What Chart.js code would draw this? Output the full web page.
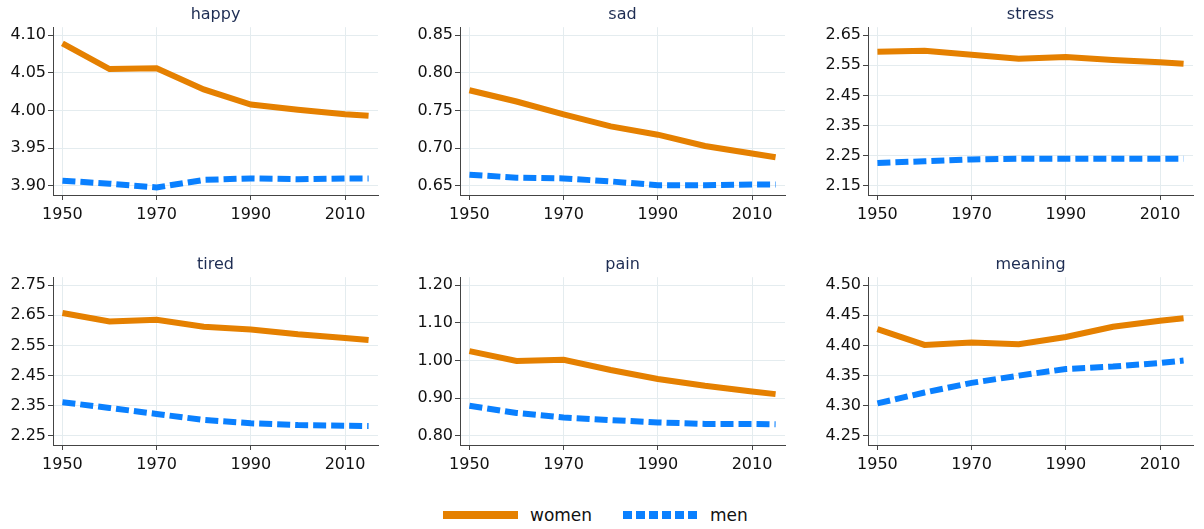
<!DOCTYPE html>
<html>
<head>
<meta charset="utf-8">
<script src="https://cdn.jsdelivr.net/npm/chart.js@4"></script>
<style>
  body { margin: 0; background: #fff; width: 1204px; height: 529px; position: relative; overflow: hidden; }
  .panel { position: absolute; width: 380px; height: 230px; }
  #legend { position: absolute; left: 0; top: 500px; width: 1204px; height: 30px;
    font: 17px "DejaVu Sans", sans-serif; color: #111; }
  #legend span { position: absolute; top: 5px; }
</style>
</head>
<body>
<div class="panel" style="left:0;top:0"><canvas id="c0"></canvas></div>
<div class="panel" style="left:407px;top:0"><canvas id="c1"></canvas></div>
<div class="panel" style="left:815px;top:0"><canvas id="c2"></canvas></div>
<div class="panel" style="left:0;top:250px"><canvas id="c3"></canvas></div>
<div class="panel" style="left:407px;top:250px"><canvas id="c4"></canvas></div>
<div class="panel" style="left:815px;top:250px"><canvas id="c5"></canvas></div>

<div id="legend">
  <svg width="1204" height="30" style="position:absolute;left:0;top:0">
    <line x1="443" y1="15" x2="518" y2="15" stroke="#E58000" stroke-width="8"/>
    <line x1="623" y1="15" x2="698" y2="15" stroke="#0A80FF" stroke-width="8" stroke-dasharray="9,4"/>
  </svg>
  <span style="left:530px">women</span>
  <span style="left:710px">men</span>
</div>

<script>
const years = [1950, 1960, 1970, 1980, 1990, 2000, 2010, 2015];
const xTicks = [1950, 1970, 1990, 2010];

const titles = ["happy", "sad", "stress", "tired", "pain", "meaning"];

const happyWomen = [4.089, 4.055, 4.056, 4.028, 4.008, 4.001, 3.995, 3.993];
const happyMen = [3.907, 3.903, 3.898, 3.908, 3.910, 3.909, 3.910, 3.910];
const sadWomen = [0.777, 0.762, 0.745, 0.729, 0.718, 0.703, 0.693, 0.688];
const sadMen = [0.665, 0.661, 0.660, 0.656, 0.651, 0.651, 0.652, 0.652];
const stressWomen = [2.595, 2.598, 2.585, 2.572, 2.578, 2.568, 2.560, 2.555];
const stressMen = [2.226, 2.232, 2.238, 2.240, 2.240, 2.240, 2.240, 2.240];
const tiredWomen = [2.658, 2.630, 2.635, 2.612, 2.603, 2.587, 2.575, 2.568];
const tiredMen = [2.362, 2.343, 2.323, 2.303, 2.292, 2.286, 2.284, 2.283];
const painWomen = [1.025, 0.999, 1.002, 0.975, 0.951, 0.933, 0.918, 0.911];
const painMen = [0.880, 0.861, 0.849, 0.842, 0.836, 0.832, 0.832, 0.831];
const meaningWomen = [4.427, 4.401, 4.405, 4.402, 4.414, 4.431, 4.441, 4.445];
const meaningMen = [4.304, 4.322, 4.338, 4.350, 4.361, 4.365, 4.371, 4.375];

const happyTicks = [3.90, 3.95, 4.00, 4.05, 4.10];
const sadTicks = [0.65, 0.70, 0.75, 0.80, 0.85];
const stressTicks = [2.15, 2.25, 2.35, 2.45, 2.55, 2.65];
const tiredTicks = [2.25, 2.35, 2.45, 2.55, 2.65, 2.75];
const painTicks = [0.80, 0.90, 1.00, 1.10, 1.20];
const meaningTicks = [4.25, 4.30, 4.35, 4.40, 4.45, 4.50];

const women = [happyWomen, sadWomen, stressWomen, tiredWomen, painWomen, meaningWomen];
const men = [happyMen, sadMen, stressMen, tiredMen, painMen, meaningMen];
const yTicks = [happyTicks, sadTicks, stressTicks, tiredTicks, painTicks, meaningTicks];

const FONT = "'DejaVu Sans', sans-serif";
const ORANGE = "#E58000";
const BLUE = "#0A80FF";
const GRID = "#e4ecef";
const AXIS = "#444";

function pts(vals) {
  return years.map((y, i) => ({ x: y, y: vals[i] }));
}

function makePanel(i) {
  let ticks = yTicks[i];
  let lo = ticks[0], hi = ticks[ticks.length - 1];
  let span = hi - lo;

  new Chart(document.getElementById("c" + i), {
    type: "line",
    data: {
      datasets: [
        {
          label: "women",
          data: pts(women[i]),
          borderColor: ORANGE,
          borderWidth: 6,
          pointRadius: 0,
          tension: 0,
        },
        {
          label: "men",
          data: pts(men[i]),
          borderColor: BLUE,
          borderWidth: 6,
          borderDash: [13, 5],
          pointRadius: 0,
          tension: 0,
        },
      ],
    },
    options: {
      responsive: false,
      animation: false,
      layout: { padding: { left: 0, right: 2, top: 0, bottom: 0 } },
      plugins: {
        legend: { display: false },
        tooltip: { enabled: false },
        title: {
          display: true,
          text: titles[i],
          fullSize: false,
          color: "#1e2d53",
          font: { family: FONT, size: 16, weight: "normal" },
          padding: { top: 5, bottom: 3 },
        },
      },
      scales: {
        x: {
          type: "linear",
          min: 1948,
          max: 2017,
          afterBuildTicks: (s) => { s.ticks = xTicks.map((v) => ({ value: v })); },
          afterFit: (s) => { s.height = 35; },
          ticks: {
            color: "#111",
            font: { family: FONT, size: 16 },
            padding: 5,
            maxRotation: 0,
            callback: (v) => String(v),
          },
          grid: { color: GRID, tickColor: AXIS, tickLength: 5 },
          border: { color: AXIS, width: 1 },
        },
        y: {
          min: lo - span * 0.06,
          max: hi + span * 0.053,
          afterBuildTicks: (s) => { s.ticks = ticks.map((v) => ({ value: v })); },
          afterFit: (s) => { s.width = 53; },
          ticks: {
            color: "#111",
            font: { family: FONT, size: 16 },
            padding: 2,
            callback: (v) => v.toFixed(2),
          },
          grid: { color: GRID, tickColor: AXIS, tickLength: 5 },
          border: { color: AXIS, width: 1 },
        },
      },
    },
  });
}

for (let i = 0; i < 6; i++) {
  let c = document.getElementById("c" + i);
  c.width = 380;
  c.height = 230;
  makePanel(i);
}
</script>
</body>
</html>
